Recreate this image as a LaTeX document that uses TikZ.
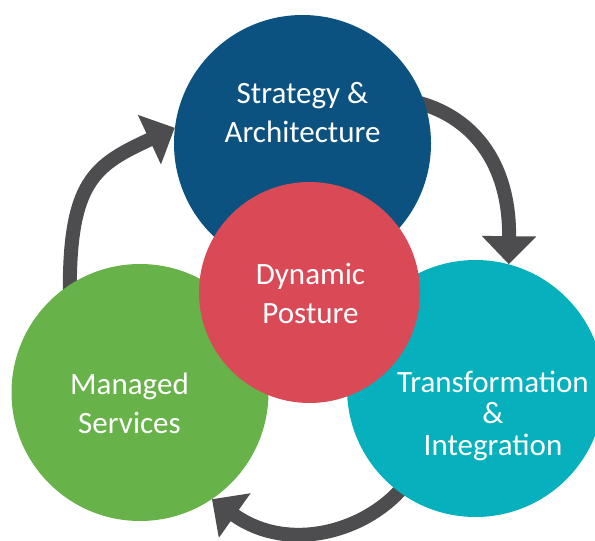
\documentclass[tikz,border=0pt]{standalone}
\usepackage{fontspec}
\setmainfont{Carlito}
\usetikzlibrary{arrows.meta,backgrounds}
\definecolor{stratblue}{RGB}{11,82,128}
\definecolor{posturered}{RGB}{217,74,86}
\definecolor{servgreen}{RGB}{103,178,73}
\definecolor{transteal}{RGB}{7,176,189}
\definecolor{flowgray}{RGB}{77,77,79}
\tikzstyle{phase}=[circle, inner sep=0pt, minimum size=257pt]
\tikzstyle{caption}=[text=white, align=center, inner sep=0pt, anchor=base, font=\fontsize{31}{39}\selectfont]
\tikzstyle{flow}=[draw=flowgray, line width=14pt, -{Triangle[length=28pt, width=53pt]}]

\begin{document}
\begin{tikzpicture}[x=1pt, y=-1pt]
                    \useasboundingbox (0,0) rectangle (595,541);
                    \node[phase, fill=stratblue] (strategy) at (302.5, 143.5) {};
                    \node[phase, fill=servgreen] (managed) at (140, 392.5) {};
                    \node[phase, fill=transteal] (transform) at (475.5, 388.5) {};
                    \node[phase, fill=posturered, minimum size=221pt] (posture) at (309.5, 292.5) {};
                    \node[caption] (strategyText) at (302.5, 142) {Strategy \&\\Architecture};
                    \node[caption] (postureText) at (310.5, 323) {Dynamic\\Posture};
                    \node[caption] (managedText) at (129.5, 433) {Managed\\Services};
                    \node[caption, font=\fontsize{31}{31.5}\selectfont] (transformText) at (493, 455) {Transformation\\\&\\Integration};
                    \begin{scope}[on background layer]
                        \draw[flow] ([yshift=-15pt]managed.123) .. controls (68,180) and (95,165) .. (strategy.173);
                        \draw[flow] ([xshift=-10pt]strategy.19) .. controls (470,115) and (510,160) .. (transform.75);
                        \draw[flow] ([shift={(8pt,8pt)}]transform.233) .. controls (370,530) and (290,555) .. (managed.-56);
                    \end{scope}
                \end{tikzpicture}
\end{document}
